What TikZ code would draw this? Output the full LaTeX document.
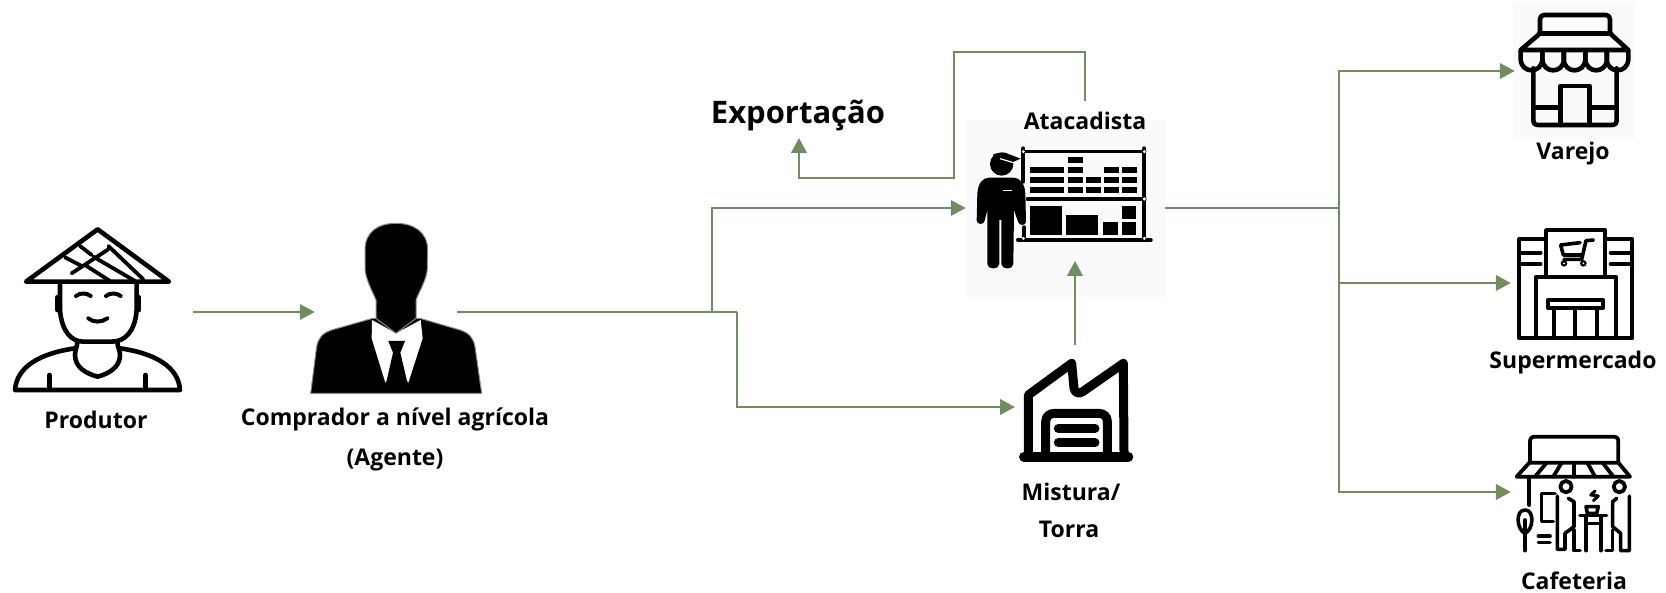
\documentclass[tikz,border=0pt]{standalone}
\usepackage{fontspec}
\setmainfont{Open Sans}
\usetikzlibrary{arrows.meta}
\definecolor{linegreen}{RGB}{112,140,96}
\tikzset{
  conn/.style={draw=linegreen,line width=2.4pt},
  arr/.style={conn,-{Triangle[length=15pt,width=15.5pt,fill=linegreen]}},
  lab/.style={font=\fontsize{23}{28}\selectfont\bfseries,text=black,inner sep=0pt,align=center},
  box/.style={inner sep=0pt,minimum width=#1},
  icon/.style={draw=black,line width=#1,line join=round,line cap=round},
  ink/.style={fill=black,draw=none},
}
\begin{document}
\begin{tikzpicture}[x=1pt,y=-1pt]
\useasboundingbox (0,0) rectangle (1666,593);
% light panels
\fill[black!2] (966,120) rectangle (1165,297);
\fill[black!2] (1513,3) rectangle (1635,139);

% ---------- Produtor
\begin{scope}[shift={(0,210)},scale=1/3]
\draw[icon=4.6pt] (293,58)--(78,215)--(507,215)--cycle;
\draw[icon=3.8pt] (280,140)--(405,213) (325,108)--(430,208) (215,190)--(325,118)
  (240,108)--(275,135) (195,142)--(245,168) (255,165)--(330,213);
\draw[icon=4.6pt] (180,220)--(180,300) .. controls (185,365) and (215,395) .. (250,395)--(335,395)
  .. controls (375,395) and (405,365) .. (410,300)--(410,220);
\draw[icon=5pt] (173,262)--(173,300) (416,262)--(416,300);
\draw[icon=4pt] (228,258) .. controls (240,248) and (260,248) .. (272,258)
  (318,258) .. controls (330,248) and (350,248) .. (362,258)
  (265,325) .. controls (280,338) and (305,338) .. (322,325);
\draw[icon=4.6pt] (232,395) .. controls (232,410) and (225,420) .. (225,435)
  .. controls (225,470) and (255,490) .. (293,500)
  .. controls (330,490) and (360,470) .. (360,435)
  .. controls (360,420) and (352,410) .. (352,395);
\draw[icon=4.6pt] (225,415) .. controls (120,430) and (50,470) .. (45,540)--(540,540)
  .. controls (535,470) and (465,430) .. (360,415);
\draw[icon=4.6pt] (148,495)--(148,535) (436,495)--(436,535);
\end{scope}
\node[box=194pt,minimum height=10pt] (prod) at (96,312) {};
\node[lab] (tprod) at (96,420) {Produtor};

% ---------- Comprador
\begin{scope}[shift={(290,210)},scale=1/3]
\path[ink,draw=black!45,line width=1pt,line join=round]
  (248,325)--(125,360) .. controls (95,370) and (85,385) .. (80,410)--(62,550)--(575,550)--(555,410)
  .. controls (550,385) and (540,370) .. (510,360)--(390,325)--cycle;
\fill[white] (246,330)--(318,370)--(392,330)--(398,385)--(355,518)--(318,470)--(286,518)--(245,385)--cycle;
\path[ink] (295,393)--(345,393)--(331,428)--(355,530)--(286,530)--(309,428)--cycle;
\path[ink,draw=black!45,line width=1pt,line join=round]
  (225,120) .. controls (225,65) and (265,40) .. (318,40)
  .. controls (370,40) and (413,65) .. (413,120)--(412,175) .. controls (412,205) and (385,250) .. (378,270)
  --(378,325)--(318,370)--(258,325)--(258,270) .. controls (250,250) and (225,205) .. (225,175)--cycle;
\end{scope}
\node[box=142pt,minimum height=10pt] (agent) at (386,312) {};
\node[lab] (tagent) at (395,419) {Comprador a nível agrícola};
\node[lab] (tagent2) at (395,460) {(Agente)};

% ---------- Atacadista
\begin{scope}[shift={(950,110)},scale=1/3]
\fill (155,162) circle (35);
\path[ink] (130,132)--(165,128)--(212,146)--(175,162)--(130,170)--cycle;
\draw[white,line width=1.2pt] (150,146)--(190,158);
\path[ink] (80,332) .. controls (80,345) and (103,345) .. (104,332)--(112,300)--(112,462)
  .. controls (112,480) and (147,480) .. (148,462)--(148,330)--(154,330)--(154,462)
  .. controls (155,480) and (190,480) .. (190,462)--(192,300)--(204,335)
  .. controls (206,348) and (228,348) .. (228,335)--(226,250)
  .. controls (224,220) and (210,203) .. (190,203)--(118,203)
  .. controls (98,203) and (84,220) .. (82,250)--cycle;
\draw[white,line width=1.4pt] (158,241)--(185,241);
\draw[white,line width=1.2pt] (232,230)--(232,345);
\draw[icon=4pt] (220,115)--(220,215) (583,115)--(583,390) (222,352)--(222,388);
\draw[icon=3.2pt] (218,125)--(585,125) (232,267)--(585,267);
\draw[icon=3.4pt] (203,390)--(603,390);
\fill[white] (220,125) circle (5) (583,125) circle (5) (583,267) circle (5) (220,385) circle (5) (583,385) circle (5);
\foreach \a/\b/\ya/\yb in {240/342/170/190,240/342/200/220,240/342/231/250,
  355/398/142/160,355/398/170/190,355/398/200/220,355/398/231/250,
  408/452/200/220,408/452/231/250,
  463/507/170/190,463/507/200/220,463/507/231/250,
  517/561/170/190,517/561/200/220,517/561/231/250,
  241/335/288/374,349/443/315/374,460/504/335/374,515/558/335/374,515/558/288/327}
  {\fill (\a,\ya) rectangle (\b,\yb);}
\end{scope}
\node[inner sep=0pt,minimum width=199pt,minimum height=176pt] (ata) at (1065.5,208) {};
\node[lab] (tata) at (1085,121) {Atacadista};
\node[font=\fontsize{31}{36}\selectfont\bfseries,inner sep=0pt] (export) at (798,115) {Exportação};

% ---------- Mistura / Torra
\begin{scope}[shift={(1000,340)},scale=1/3]
\draw[icon=9pt] (85,335)--(85,165)--(215,70)--(222,145) .. controls (225,160) and (238,162) .. (248,155)--(370,70)--(372,335);
\draw[icon=10pt] (72,350)--(385,350);
\draw[icon=9pt,line cap=butt] (137,338)--(137,245) .. controls (137,228) and (150,220) .. (165,220)--(295,220)
  .. controls (312,220) and (322,230) .. (322,245)--(322,338);
\draw[icon=9pt] (175,265)--(285,265) (175,308)--(285,308);
\end{scope}
\node[inner sep=0pt,minimum width=110pt,minimum height=8pt] (mist) at (1075,400) {};
\node[lab] (tmist) at (1071,492) {Mistura/};
\node[lab] (ttorra) at (1069,529) {Torra};

% ---------- Varejo
\begin{scope}[shift={(1500,0)},scale=1/3]
\draw[icon=4.6pt] (120,100)--(120,58) .. controls (120,50) and (125,45) .. (132,45)--(318,45) .. controls (325,45) and (330,50) .. (330,58)--(330,100);
\draw[icon=5pt] (118,102)--(332,102);
\draw[icon=4.6pt] (118,102)--(62,150)--(385,150)--(332,102);
\foreach \x in {62,127,191,256,320}
  {\draw[icon=4.6pt] (\x,152)--(\x,178) .. controls (\x+2,222) and (\x+63,222) .. (\x+65,178)--(\x+65,152);}
\draw[icon=4.6pt] (100,205)--(100,360) .. controls (100,370) and (105,375) .. (115,375)--(335,375) .. controls (345,375) and (350,370) .. (350,360)--(350,205);
\draw[icon=4.6pt] (182,375)--(182,258)--(268,258)--(268,375) (100,322)--(182,322) (268,322)--(350,322);
\end{scope}
\node[inner sep=0pt,minimum width=122pt,minimum height=136pt] (var) at (1576,71) {};
\node[lab] (tvar) at (1573,154) {Varejo};

% ---------- Supermercado
\begin{scope}[shift={(1500,220)},scale=1/3]
\draw[icon=3.8pt] (138,165)--(138,30)--(316,30)--(316,165);
\draw[icon=3.8pt] (138,57)--(58,57)--(58,355)--(397,355)--(397,57)--(316,57);
\draw[icon=3.8pt] (58,98)--(122,98) (58,132)--(122,132) (332,98)--(397,98) (332,132)--(397,132);
\draw[icon=3.8pt] (108,355)--(108,170)--(348,170)--(348,355);
\draw[icon=3.8pt] (143,240) rectangle (310,264);
\draw[icon=3.8pt] (162,264)--(162,355) (226,264)--(226,355) (292,264)--(292,355);
\draw[icon=3.6pt] (280,60)--(258,62)--(245,118)--(192,118) (182,75)--(240,68) (182,75)--(190,105)--(245,105);
\fill (192,130) circle (10) (250,130) circle (10);
\fill[white] (192,130) circle (3) (250,130) circle (3);
\end{scope}
\node[inner sep=0pt,minimum width=118pt,minimum height=118pt] (sup) at (1570,283) {};
\node[lab] (tsup) at (1573,363) {Supermercado};

% ---------- Cafeteria
\begin{scope}[shift={(1500,430)},scale=1/3]
\draw[icon=3.8pt] (90,98)--(90,35) .. controls (90,25) and (95,20) .. (105,20)--(340,20) .. controls (350,20) and (355,25) .. (355,35)--(355,98);
\draw[icon=3.8pt] (88,98)--(355,98)--(390,140)--(50,140)--cycle;
\draw[icon=3.8pt] (140,98)--(105,140) (185,98)--(160,140) (222,98)--(222,140) (262,98)--(285,140) (308,98)--(340,140);
\draw[icon=3.8pt] (88,140)--(88,225);
\draw[icon=3.6pt] (75,240) .. controls (45,240) and (50,300) .. (75,310) .. controls (100,300) and (105,240) .. (75,240);
\draw[icon=3.6pt] (75,270)--(75,362);
\draw[icon=3.8pt] (198,170) circle (17) (358,170) circle (17);
\draw[icon=3.6pt] (160,275)--(125,275)--(125,190)--(165,190);
\draw[icon=3.6pt] (115,318)--(150,318) (115,338)--(150,338);
\draw[icon=3.6pt] (172,198)--(172,358)--(195,358)--(195,310)--(222,290)--(222,215)--(205,205);
\draw[icon=3.6pt] (240,257)--(320,257) (258,260)--(258,362) (303,260)--(303,362) (258,280)--(303,280);
\draw[icon=3.6pt] (222,300)--(222,362)--(240,362);
\draw[icon=3.6pt] (258,230)--(295,230)--(290,250)--(262,250)--cycle;
\draw[icon=3pt] (285,183)--(272,195)--(295,198)--(280,212);
\draw[icon=3.6pt] (388,198)--(388,362)--(362,362)--(362,310)--(338,290)--(338,215)--(350,205);
\draw[icon=3.6pt] (338,300)--(338,362)--(318,362);
\end{scope}
\node[inner sep=0pt,minimum width=118pt,minimum height=118pt] (caf) at (1570,492) {};
\node[lab] (tcaf) at (1574,581) {Cafeteria};

% ---------- connectors
\coordinate (split) at (712,312);
\coordinate (jog) at (737,312);
\coordinate (hub) at (1339,208);
\coordinate (exA) at (1085,52);
\coordinate (exB) at (954,52);
\coordinate (exC) at (954,178);
\coordinate (exD) at (799,178);
\coordinate (exS) at (1085,101);
\coordinate (exT) at (799,138);
\coordinate (roastS) at (1075,345);
\coordinate (roastT) at (1075,261);
\coordinate (mistIn) at (1015,407);
\coordinate (jogB) at (737,407);
\coordinate (up) at (712,208);
\draw[arr] (prod.east) -- (agent.west);
\draw[conn] (agent.east) -- (jog);
\draw[arr] (split) -- (up) -- (ata.west);
\draw[arr] (jog) -- (jogB) -- (mistIn);
\draw[arr] (roastS) -- (roastT);
\draw[arr] (exS) -- (exA) -- (exB) -- (exC) -- (exD) -- (exT);
\draw[conn] (ata.east) -- (hub);
\draw[arr] (hub) |- (var.west);
\draw[arr] (hub) |- (sup.west);
\draw[arr] (hub) |- (caf.west);
\end{tikzpicture}
\end{document}
